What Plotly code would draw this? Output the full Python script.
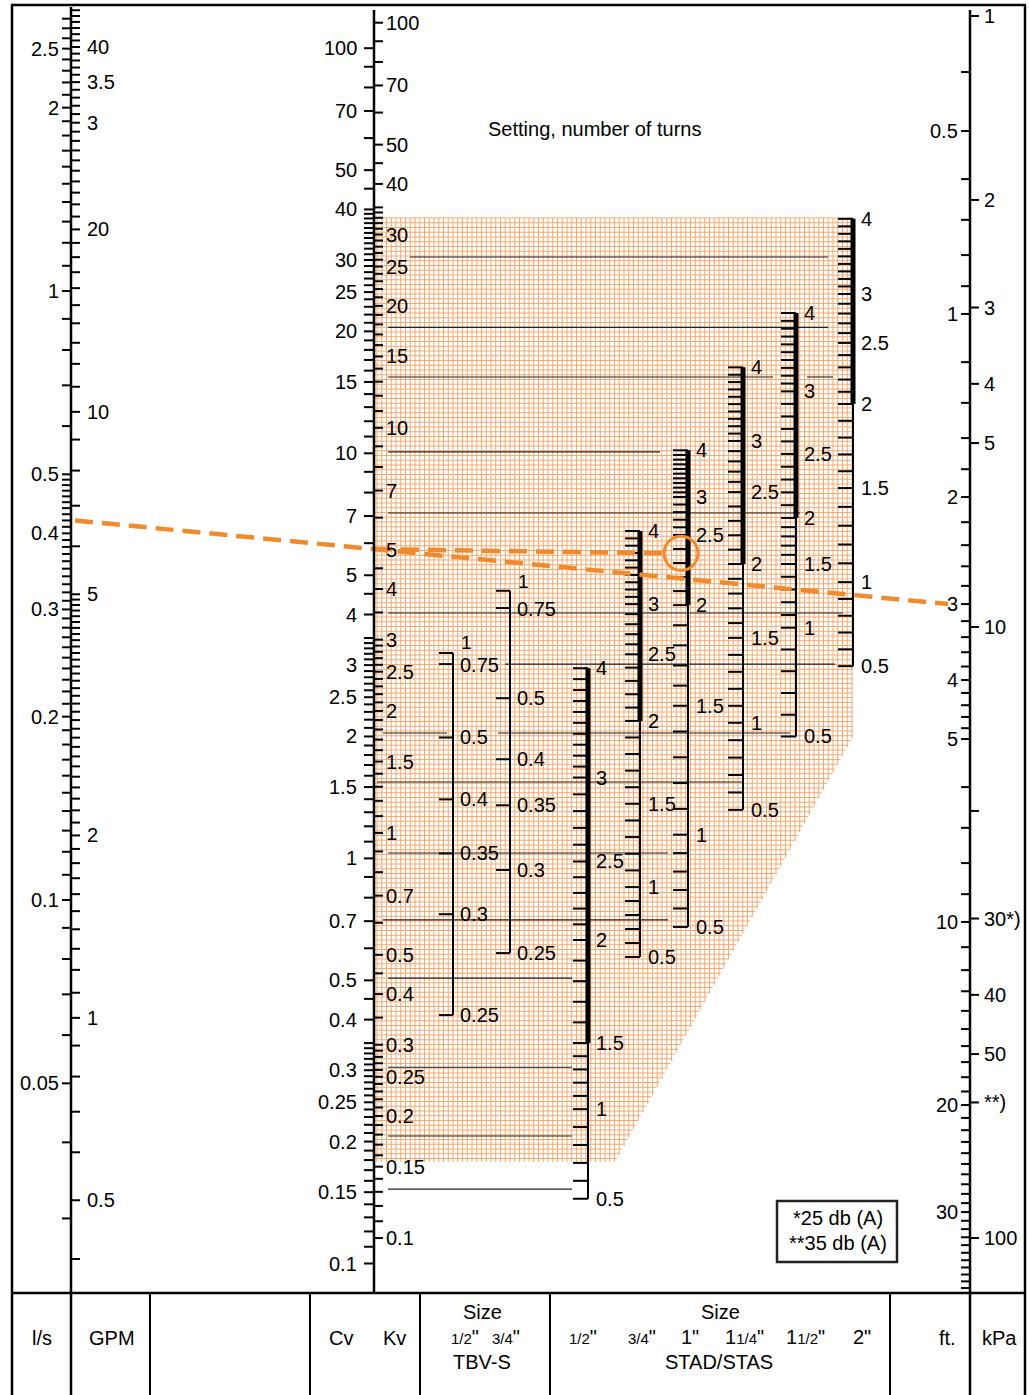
import numpy as np
import plotly.graph_objects as go

# ------------------------------------------------------------------ DATA
# Flow scale: l/s (left of axis) and GPM (right of axis)
ls_major = [2.5, 2, 1, 0.5, 0.4, 0.3, 0.2, 0.1, 0.05]
gpm_major = [40, 35, 30, 20, 10, 5, 2, 1, 0.5]
gpm_labels = ["40", "3.5", "3", "20", "10", "5", "2", "1", "0.5"]

# Cv (left) and Kv (right) scale
cv_major = [100, 70, 50, 40, 30, 25, 20, 15, 10, 7, 5, 4, 3, 2.5, 2, 1.5, 1,
            0.7, 0.5, 0.4, 0.3, 0.25, 0.2, 0.15, 0.1]
kv_major = [100, 70, 50, 40, 30, 25, 20, 15, 10, 7, 5, 4, 3, 2.5, 2, 1.5, 1,
            0.7, 0.5, 0.4, 0.3, 0.25, 0.2, 0.15, 0.1]

# Pressure drop: ft (left) and kPa (right)
ft_major = [0.5, 1, 2, 3, 4, 5, 10, 20, 30]
kpa_major = [1, 2, 3, 4, 5, 10, 30, 40, 50, 60, 100]
kpa_labels = ["1", "2", "3", "4", "5", "10", "30*)", "40", "50", "**)", "100"]

# TBV-S settings (turns) and Kv
tbv_turns = [1, 0.75, 0.5, 0.4, 0.35, 0.3, 0.25]
tbv15_kv = [2.78, 2.61, 1.72, 1.21, 0.89, 0.63, 0.355]
tbv20_kv = [3.96, 3.59, 2.15, 1.52, 1.17, 0.81, 0.505]

# STAD/STAS settings (turns) and Kv
stad_turns = [4, 3, 2.5, 2, 1.5, 1, 0.5]
stad15_kv = [2.55, 1.37, 0.85, 0.544, 0.303, 0.208, 0.125]
stad20_kv = [5.56, 3.67, 2.76, 1.89, 1.18, 0.735, 0.494]
stad25_kv = [8.8, 6.75, 5.44, 3.65, 2.06, 0.99, 0.586]
stad32_kv = [14.1, 9.28, 6.94, 4.61, 3.03, 1.87, 1.14]
stad40_kv = [19.2, 12.3, 8.62, 5.99, 4.61, 3.21, 1.73]
stad50_kv = [32.8, 21.4, 16.2, 11.45, 7.1, 4.16, 2.58]

# Thin horizontal reference lines (Kv values)
guide_kv = [26.4, 17.7, 13.35, 13.35, 8.72, 6.16, 3.49, 2.61, 1.764, 1.764, 1.335,
            0.892, 0.61, 0.438, 0.264, 0.1786, 0.132]

# Worked example
ex_flow_ls = 0.42
ex_dp_ft = 3.0
ex_setting_kv = 4.9


# ------------------------------------------------------------------ helpers
def seq(a, b, d, skip=()):
    n = int(round((b - a) / d))
    vals = [round(a + i * d, 4) for i in range(n + 1)]
    return [v for v in vals if v not in skip]


ls_minor = ([2.8, 2.7, 2.6, 2.4, 2.3, 2.2, 2.1] + seq(1.1, 1.9, 0.1) +
            [0.9, 0.8, 0.7, 0.6] + seq(0.21, 0.49, 0.01, skip=(0.3, 0.4)) +
            seq(0.11, 0.19, 0.01) + [0.09, 0.08, 0.07, 0.06, 0.04, 0.03])
gpm_minor = (seq(41, 46, 1) + seq(31, 39, 1, skip=(35,)) + seq(21, 29, 1) +
             seq(11, 19, 1) + [9, 8, 7, 6] + seq(2.1, 4.9, 0.1) +
             seq(1.1, 1.9, 0.1) + [0.9, 0.8, 0.7, 0.6, 0.4])
cv_minor = ([90, 80, 60, 45] + seq(31, 39, 1) + seq(16, 29, 1, skip=(20, 25)) +
            [14, 13, 12, 11, 9, 8, 6, 4.5, 3.5] +
            seq(2.1, 3.4, 0.1, skip=(2.5, 3.0)) + seq(1.1, 1.9, 0.1, skip=(1.5,)) +
            [0.9, 0.8, 0.6, 0.45, 0.35] + seq(0.21, 0.34, 0.01, skip=(0.25, 0.3)) +
            seq(0.16, 0.19, 0.01) + seq(0.11, 0.14, 0.01))
kv_minor = ([90, 80, 60, 45] + seq(31, 35, 1) + seq(16, 29, 1, skip=(20, 25)) +
            [14, 13, 12, 11, 9, 8, 6, 4.5, 3.5] +
            seq(2.1, 2.9, 0.1, skip=(2.5,)) + seq(1.1, 1.9, 0.1, skip=(1.5,)) +
            [0.9, 0.8, 0.6, 0.45, 0.35] + seq(0.21, 0.29, 0.01, skip=(0.25,)) +
            seq(0.16, 0.19, 0.01) + seq(0.11, 0.14, 0.01))
ft_minor = ([0.4, 0.6, 0.7, 0.8, 0.9, 1.2, 1.4, 1.6, 1.8, 2.2, 2.4, 2.6, 2.8,
             3.2, 3.4, 3.6, 3.8, 4.2, 4.4, 4.6, 4.8, 6, 7, 8, 9] +
            seq(11, 19, 1) + seq(21, 29, 1) + seq(31, 40, 1))
kpa_minor = [20]

W, H = 1029, 1395
PX_DEC = 405.1      # pixels per decade of the Kv axis
Y_KV100 = 22.7      # pixel row of Kv = 100
LOG_TOP = 2 + Y_KV100 / PX_DEC
LOG_BOT = 2 - (H - Y_KV100) / PX_DEC


def kv_of_px(ypx):
    return 10 ** (2 - (np.asarray(ypx, float) - Y_KV100) / PX_DEC)


# nomogram calibrations (scale -> equivalent Kv row)
def ls_kv(q):
    return kv_of_px(291 - 609 * np.log10(np.asarray(q, float)))


def gpm_kv(g):
    return kv_of_px(47 + 606 * np.log10(40.0 / np.asarray(g, float)))


def ft_kv(f):
    return kv_of_px(314 + 608 * np.log10(np.asarray(f, float)))


def kpa_kv(p):
    return kv_of_px(16 + 611 * np.log10(np.asarray(p, float)))


def cv_kv(c):
    return np.asarray(c, float) / 1.156


def py(ypx):
    return 1 - ypx / H


FONT = "Liberation Sans, Arial, Helvetica, sans-serif"
FS = 20
fig = go.Figure()
ann = []
shapes = []


def add_lines(xs, ys, color="black", width=2, dash=None):
    fig.add_trace(go.Scatter(x=xs, y=ys, mode="lines", hoverinfo="skip",
                             line=dict(color=color, width=width, dash=dash)))


def ticks(x0, x1, kvs, width=2):
    xs, ys = [], []
    for k in np.atleast_1d(kvs):
        xs += [x0, x1, None]
        ys += [float(k), float(k), None]
    add_lines(xs, ys, width=width)


def label(x, kv, text, anchor, size=FS, yshift=0):
    ann.append(dict(x=x, y=float(np.log10(kv)), xref="x", yref="y", text=text,
                    showarrow=False, xanchor=anchor, yanchor="middle",
                    yshift=yshift, borderpad=0,
                    font=dict(size=size, color="black", family=FONT)))


def ptext(x, ypx, text, size=FS, anchor="center"):
    ann.append(dict(x=x, y=py(ypx), xref="x", yref="paper", text=text,
                    showarrow=False, xanchor=anchor, yanchor="middle",
                    borderpad=0, font=dict(size=size, color="black", family=FONT)))


def vline(x, y0px, y1px, width=2.5):
    shapes.append(dict(type="line", xref="x", yref="paper", x0=x, x1=x,
                       y0=py(y0px), y1=py(y1px),
                       line=dict(color="black", width=width)))


def hline(x0, x1, ypx, width=2.5):
    shapes.append(dict(type="line", xref="x", yref="paper", x0=x0, x1=x1,
                       y0=py(ypx), y1=py(ypx),
                       line=dict(color="black", width=width)))


# ------------------------------------------------------------------ orange grid
G_L, G_R, G_T, G_B, G_DX = 375, 853, 218, 1162, 615
G_DY = 737
step = 4.75
xs, ys = [], []
for x in np.arange(G_L + 2, G_R + 0.1, step):
    bot = G_B if x <= G_DX else G_B - (x - G_DX) * (G_B - G_DY) / (G_R - G_DX)
    xs += [x, x, None]
    ys += [float(kv_of_px(G_T)), float(kv_of_px(bot)), None]
for ypx in np.arange(G_T, G_B + 0.1, step):
    right = G_R if ypx <= G_DY else G_DX + (G_B - ypx) * (G_R - G_DX) / (G_B - G_DY)
    xs += [G_L, right, None]
    ys += [float(kv_of_px(ypx))] * 2 + [None]
add_lines(xs, ys, color="#f6a96f", width=1)

# ------------------------------------------------------------------ guide lines
guide_x = [(410, 828), (388, 828), (388, 773), (807, 833), (388, 660), (388, 800),
           (388, 843), (505, 835), (383, 447), (498, 790), (377, 743), (388, 668),
           (383, 668), (388, 572), (388, 572), (388, 572), (388, 572)]
xs, ys = [], []
for k, (a, b) in zip(guide_kv, guide_x):
    xs += [a, b, None]
    ys += [k, k, None]
add_lines(xs, ys, color="#222222", width=1.1)

# ------------------------------------------------------------------ flow axis (x=71)
XF = 71
vline(XF, 7, H + 5)
ticks(XF - 9, XF, ls_kv(ls_major + ls_minor))
ticks(XF, XF + 9, gpm_kv(gpm_major + gpm_minor))
for v in ls_major:
    label(XF - 11, ls_kv(v), f"{v:g}", "right")
for v, t in zip(gpm_major, gpm_labels):
    label(XF + 15, gpm_kv(v), t, "left")

# ------------------------------------------------------------------ Cv / Kv axis (x=374)
XK = 374
vline(XK, 10, 1293)
ticks(XK - 10, XK, cv_kv(cv_major + cv_minor))
ticks(XK, XK + 9, np.array(kv_major + kv_minor, float))
for v in cv_major:
    label(XK - 16, cv_kv(v), f"{v:g}", "right")
for v in kv_major:
    label(XK + 11, v, f"{v:g}", "left")

# ------------------------------------------------------------------ pressure axis (x=970)
XP = 970
vline(XP, 10, H + 5)
ticks(XP - 9, XP, ft_kv(ft_major + ft_minor))
ticks(XP, XP + 9, kpa_kv(kpa_major + kpa_minor))
for v in ft_major:
    label(XP - 11, ft_kv(v), f"{v:g}", "right")
for v, t in zip(kpa_major, kpa_labels):
    label(XP + 13, kpa_kv(v), t, "left")


# ------------------------------------------------------------------ TBV-S scales
def tbv_scale(x, kvs, top_shift):
    add_lines([x, x], [kvs[0], kvs[-1]], width=2)
    ticks(x - 14, x, kvs)
    for t, k in zip(tbv_turns, kvs):
        if t == 1:
            label(x + 7, k, "1", "left", size=19, yshift=top_shift)
        elif t == 0.75:
            label(x + 6, k, "0.75", "left", yshift=-1)
        else:
            label(x + 6, k, f"{t:g}", "left")


tbv_scale(453, tbv15_kv, 11)
tbv_scale(510, tbv20_kv, 9)


# ------------------------------------------------------------------ STAD scales
def stad_scale(x, kvs, thick_to):
    t_arr = np.array(stad_turns[::-1], float)
    lk = np.log10(np.array(kvs[::-1], float))
    add_lines([x, x], [kvs[0], kvs[-1]], width=2)
    k_thick = 10 ** np.interp(thick_to, t_arr, lk)
    add_lines([x, x], [kvs[0], float(k_thick)], width=5)
    minor_t = [t for t in seq(0.6, 3.9, 0.1) if t not in stad_turns]
    ticks(x - 15, x, 10 ** np.interp(minor_t, t_arr, lk))
    ticks(x - 15, x, kvs)
    for t, k in zip(stad_turns, kvs):
        label(x + 7, k, f"{t:g}", "left")


stad_scale(588, stad15_kv, 1.5)
stad_scale(640, stad20_kv, 2)
stad_scale(688, stad25_kv, 2)
stad_scale(743, stad32_kv, 2)
stad_scale(796, stad40_kv, 2)
stad_scale(853, stad50_kv, 2)

# ------------------------------------------------------------------ worked example
ORANGE = "#f08a2c"
k0 = float(ls_kv(ex_flow_ls))
k1 = float(ft_kv(ex_dp_ft))
xa, xb = 75, 948
k_cross = 10 ** (np.log10(k0) + (np.log10(k1) - np.log10(k0)) * (XK - xa) / (xb - xa))
add_lines([xa, xb], [k0, k1], color=ORANGE, width=4.5, dash="18px,9px")
add_lines([XK, 664], [k_cross, ex_setting_kv], color=ORANGE, width=4.5, dash="18px,9px")
fig.add_trace(go.Scatter(x=[681], y=[ex_setting_kv], mode="markers", hoverinfo="skip",
                         marker=dict(symbol="circle-open", size=34,
                                     line=dict(color=ORANGE, width=3), color=ORANGE)))

# ------------------------------------------------------------------ texts
ptext(594, 129, "Setting, number of turns")
shapes.append(dict(type="rect", xref="x", yref="paper", x0=777, x1=897,
                   y0=py(1201), y1=py(1262), line=dict(color="#222222", width=2.5)))
ptext(838, 1218, "*25 db (A)")
ptext(838, 1243, "**35 db (A)")

# ------------------------------------------------------------------ frame & table
vline(12, 5, H + 5)
vline(1025, 5, H + 5)
hline(11, 1026, 5)
hline(12, 1025, 1293)
for xd in [150, 310, 420, 550, 890]:
    vline(xd, 1293, H + 5, width=2)

SM = '<span style="font-size:15px">'
ptext(42, 1338, "l/s")
ptext(112, 1338, "GPM")
ptext(341, 1338, "Cv")
ptext(394, 1338, "Kv")
ptext(482, 1312, "Size")
ptext(465, 1337, SM + "1/2</span>\"")
ptext(506, 1337, SM + "3/4</span>\"")
ptext(482, 1362, "TBV-S")
ptext(720, 1312, "Size")
ptext(583, 1337, SM + "1/2</span>\"")
ptext(642, 1337, SM + "3/4</span>\"")
ptext(690, 1337, "1\"")
ptext(744, 1337, "1" + SM + "1/4</span>\"")
ptext(805, 1337, "1" + SM + "1/2</span>\"")
ptext(862, 1337, "2\"")
ptext(719, 1362, "STAD/STAS")
ptext(947, 1338, "ft.")
ptext(999, 1338, "kPa")

fig.update_layout(
    width=W, height=H, margin=dict(l=0, r=0, t=0, b=0),
    paper_bgcolor="white", plot_bgcolor="white", showlegend=False,
    xaxis=dict(range=[0, W], visible=False, fixedrange=True),
    yaxis=dict(type="log", range=[LOG_BOT, LOG_TOP], visible=False, fixedrange=True),
    annotations=ann, shapes=shapes,
    font=dict(family=FONT, size=FS, color="black"),
)
fig.write_html("out.html", config={"displayModeBar": False},
               post_script="document.body.style.margin='0';")
